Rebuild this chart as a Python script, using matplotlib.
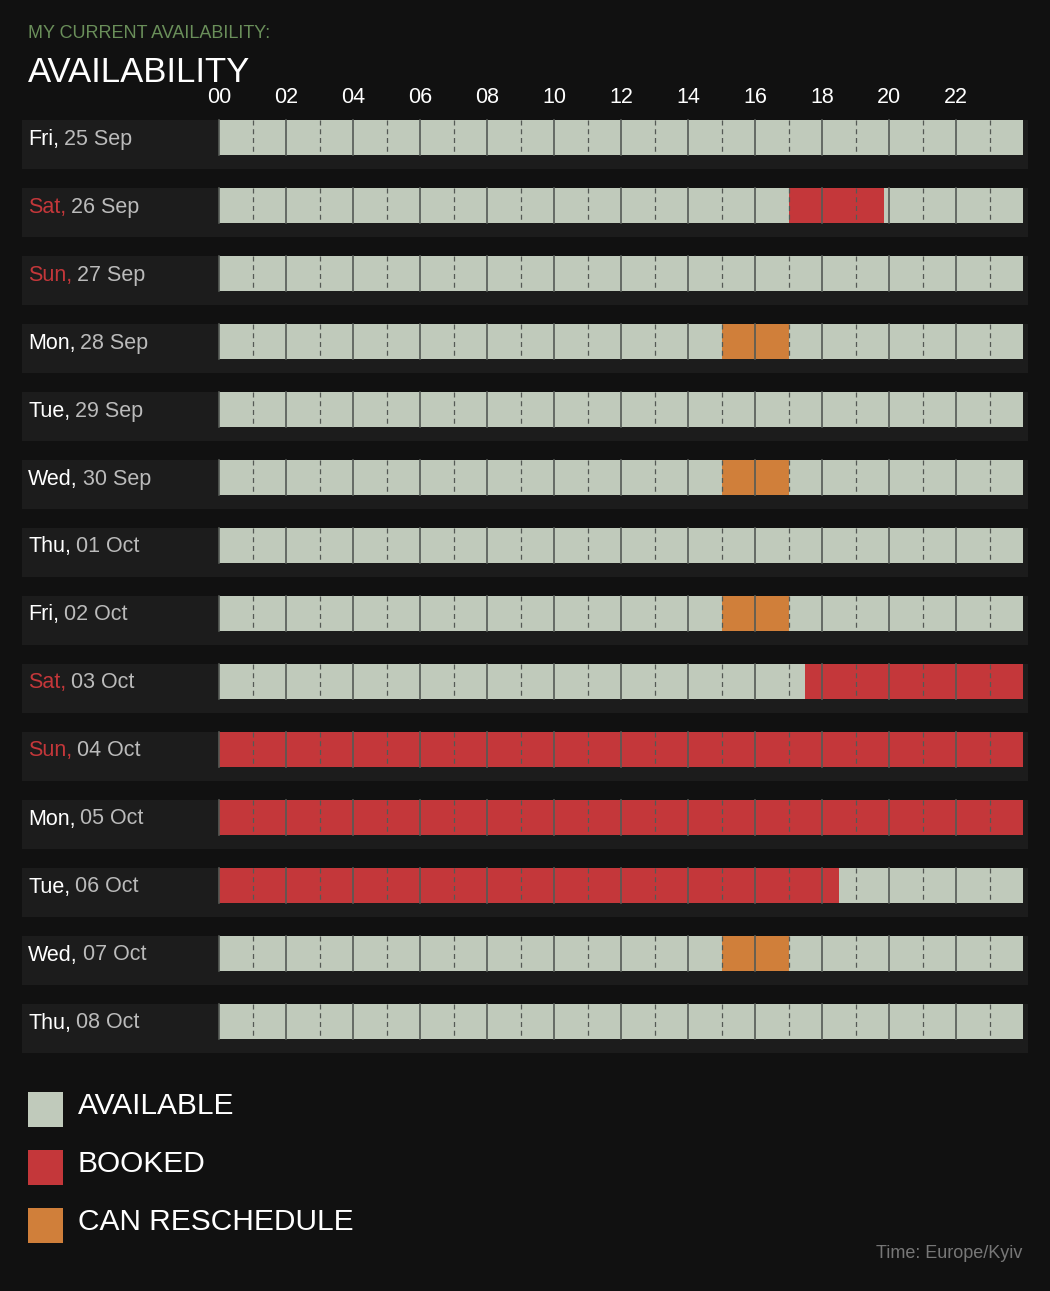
import matplotlib
matplotlib.use("Agg")
import matplotlib.pyplot as plt
from matplotlib.patches import Rectangle

plt.rcParams['font.family'] = ['Liberation Sans', 'DejaVu Sans']

W, H = 1050, 1291
days = ["Fri", "Sat", "Sun", "Mon", "Tue", "Wed", "Thu", "Fri", "Sat", "Sun", "Mon", "Tue", "Wed", "Thu"]
dates = ["25 Sep", "26 Sep", "27 Sep", "28 Sep", "29 Sep", "30 Sep", "01 Oct",
         "02 Oct", "03 Oct", "04 Oct", "05 Oct", "06 Oct", "07 Oct", "08 Oct"]
# (start_hour, end_hour, status) blocks that are not available
busy = [
    [],
    [(17.0, 19.85, "booked")],
    [],
    [(15.0, 17.0, "resched")],
    [],
    [(15.0, 17.0, "resched")],
    [],
    [(15.0, 17.0, "resched")],
    [(17.5, 24.0, "booked")],
    [(0.0, 24.0, "booked")],
    [(0.0, 24.0, "booked")],
    [(0.0, 18.5, "booked")],
    [(15.0, 17.0, "resched")],
    [],
]
hour_ticks = list(range(0, 24, 2))
legend_labels = ["AVAILABLE", "BOOKED", "CAN RESCHEDULE"]

BG = "#111111"; PANEL = "#1c1c1c"
COL = {"avail": "#c0cabb", "booked": "#c4373a", "resched": "#d07f3a"}
WEEKEND = "#c4373a"

fig = plt.figure(figsize=(W/100, H/100), dpi=100, facecolor=BG)
ax = fig.add_axes([22/W, 0, (1028-22)/W, 1])
ax.set_facecolor(BG)
ax.axis("off")
pxh = 24/804.0
ax.set_xlim(-(219-22)*pxh, 24 + 5*pxh)
ax.set_ylim((H-137.5)/68, -137.5/68)

bh = 35/68
for i in range(len(days)):
    ax.add_patch(Rectangle((ax.get_xlim()[0], i - 18/68), ax.get_xlim()[1]-ax.get_xlim()[0], 49/68,
                           facecolor=PANEL, edgecolor="none", zorder=0))
    ax.add_patch(Rectangle((0, i - bh/2), 24, bh, facecolor=COL["avail"], edgecolor="none", zorder=1))
    for s, e, st in busy[i]:
        ax.add_patch(Rectangle((s, i - bh/2), e - s, bh, facecolor=COL[st], edgecolor="none", zorder=2))
    for h in range(0, 24):
        if h % 2 == 0:
            ax.plot([h, h], [i - bh/2, i + bh/2], color="#555a55", lw=1.2, zorder=3)
        else:
            ax.plot([h, h], [i - bh/2, i + bh/2], color="#555a55", lw=0.9, ls=(0, (4, 3)), zorder=3)

fig.canvas.draw()
r = fig.canvas.get_renderer()
for i in range(len(days)):
    ypx = 139 + 68*i
    c = WEEKEND if days[i] in ("Sat", "Sun") else "#ffffff"
    t = fig.text(28/W, 1 - ypx/H, days[i] + ",", color=c, fontsize=15.5, va="center", ha="left")
    bb = t.get_window_extent(r)
    fig.text((bb.x1 + 5)/W, 1 - ypx/H, dates[i], color="#bbbbbb", fontsize=15.5, va="center", ha="left")

for h in hour_ticks:
    ax.text(h, (97 - 137.5)/68, f"{h:02d}", color="#ffffff", fontsize=15.5, ha="center", va="center")

fig.text(28/W, 1 - 34/H, "MY CURRENT AVAILABILITY:", color="#6a8f5a", fontsize=13, va="center")
fig.text(28/W, 1 - 72/H, "AVAILABILITY", color="#ffffff", fontsize=25, va="center")

for k, (lab, key) in enumerate(zip(legend_labels, ["avail", "booked", "resched"])):
    yc = 1109 + 58*k
    ax.add_patch(Rectangle((ax.get_xlim()[0] + 6*pxh, (yc - 17.5 - 137.5)/68), 35*pxh, 35/68,
                           facecolor=COL[key], edgecolor="none"))
    fig.text(78/W, 1 - (yc - 3)/H, lab, color="#ffffff", fontsize=21.5, va="center")

fig.text(1022/W, 1 - 1253/H, "Time: Europe/Kyiv", color="#777777", fontsize=13, ha="right", va="center")
fig.savefig("out.png", dpi=100, facecolor=BG)
